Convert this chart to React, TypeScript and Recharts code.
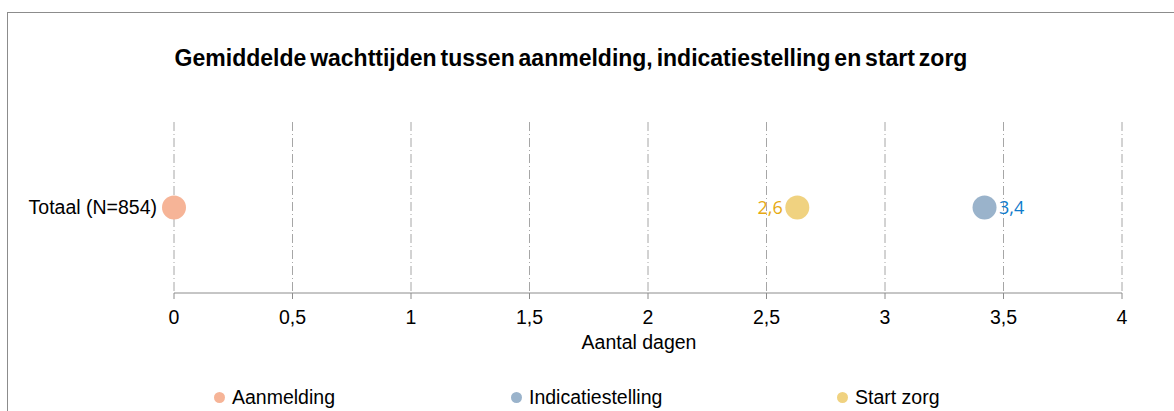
import React from "react";
import {
  ScatterChart,
  Scatter,
  XAxis,
  YAxis,
  CartesianGrid,
  LabelList,
  Label,
} from "recharts";

const categories = ["Totaal (N=854)"];
const seriesNames = ["Aanmelding", "Indicatiestelling", "Start zorg"];
const seriesValues = [0, 3.42, 2.63];
const seriesLabels = ["", "3,4", "2,6"];
const seriesColors = ["#F6B497", "#9AB3CB", "#F0D280"];
const labelColors = ["#E07A4F", "#0F7BCB", "#E6A912"];
const labelSides: ("left" | "right")[] = ["left", "right", "left"];
const xTicks = [0, 0.5, 1, 1.5, 2, 2.5, 3, 3.5, 4];

const W = 1174;
const H = 411;

const fmt = (v: number) => String(v).replace(".", ",");

const App: React.FC = () => {
  const series = seriesNames.map((name, i) => ({
    name,
    color: seriesColors[i],
    data: [{ x: seriesValues[i], y: 1, label: seriesLabels[i] }],
  }));

  return (
    <div
      style={{
        position: "absolute",
        left: 0,
        top: 0,
        width: W,
        height: H,
        overflow: "hidden",
        background: "#fff",
        fontFamily: "'Liberation Sans', Arial, sans-serif",
      }}
    >
      <div
        style={{
          position: "absolute",
          left: 7,
          top: 12,
          width: W + 20,
          height: H + 20,
          border: "1px solid #8c8c8c",
        }}
      />
      <div
        style={{
          position: "absolute",
          left: 0,
          top: 44,
          width: 1142,
          textAlign: "center",
          fontSize: 23,
          lineHeight: "28px",
          fontWeight: 700,
          letterSpacing: 0,
          wordSpacing: -2.5,
          color: "#000",
        }}
      >
        Gemiddelde wachttijden tussen aanmelding, indicatiestelling en start zorg
      </div>

      <div style={{ position: "absolute", left: 0, top: 0 }}>
        <ScatterChart
          width={W}
          height={H}
          margin={{ top: 122, right: 52, bottom: 58, left: 0 }}
        >
          <CartesianGrid
            horizontal={false}
            stroke="#A6A6A6"
            strokeDasharray="9 3 1 3"
          />
          <XAxis
            type="number"
            dataKey="x"
            domain={[0, 4]}
            ticks={xTicks}
            tickFormatter={fmt}
            axisLine={{ stroke: "#8c8c8c" }}
            tickLine={{ stroke: "#8c8c8c" }}
            tickSize={6}
            tickMargin={11}
            fontSize={19.5}
            tick={{ fill: "#000", fontSize: 19.5 }}
            height={60}
          >
            <Label
              value="Aantal dagen"
              position="insideBottom"
              offset={4}
              dx={-9}
              style={{ fill: "#000", fontSize: 19.5 }}
            />
          </XAxis>
          <YAxis
            type="number"
            dataKey="y"
            domain={[0, 2]}
            ticks={[1]}
            tickFormatter={() => categories[0]}
            axisLine={false}
            tickLine={false}
            tickMargin={11}
            fontSize={19.5}
            tick={{ fill: "#000", fontSize: 19.5 }}
            width={174}
          />
          {series.map((s, i) => (
            <Scatter
              key={s.name}
              name={s.name}
              data={s.data}
              fill={s.color}
              isAnimationActive={false}
              shape={(p: any) => (
                <circle cx={p.cx} cy={p.cy} r={12} fill={s.color} />
              )}
            >
              {s.data[0].label !== "" && (
                <LabelList
                  dataKey="label"
                  position={labelSides[i]}
                  offset={10}
                  style={{
                    fill: labelColors[i],
                    fontSize: 18,
                    fontFamily: "'Open Sans', sans-serif",
                  }}
                />
              )}
            </Scatter>
          ))}
        </ScatterChart>
      </div>

      {series.map((s, i) => (
        <div
          key={s.name}
          style={{
            position: "absolute",
            left: [214, 511, 837][i],
            top: 385,
            display: "flex",
            alignItems: "center",
            fontSize: 19.5,
            lineHeight: "24px",
            color: "#000",
          }}
        >
          <span
            style={{
              display: "inline-block",
              width: 11,
              height: 11,
              borderRadius: "50%",
              background: s.color,
              marginRight: 7,
            }}
          />
          {s.name}
        </div>
      ))}
    </div>
  );
};

export default App;
